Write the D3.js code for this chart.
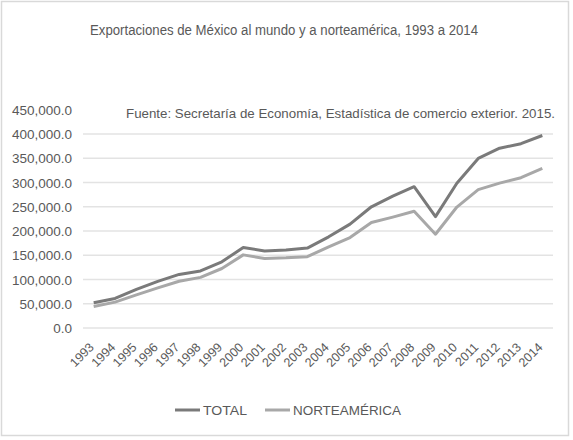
<!DOCTYPE html>
<html><head><meta charset="utf-8">
<script src="https://cdn.jsdelivr.net/npm/d3@7"></script>
<style>
body{margin:0;background:#fff;}
svg text{font-family:"Liberation Sans Narrow","Arial Narrow","Liberation Sans",sans-serif;fill:#595959;}
</style></head><body>
<svg id="c" width="573" height="440"></svg>
<script>
const years = ["1993","1994","1995","1996","1997","1998","1999","2000","2001","2002","2003","2004","2005","2006","2007","2008","2009","2010","2011","2012","2013","2014"];
const total = [51886,60882,79542,95999,110431,117539,136362,166121,158780,161046,164766,187999,214233,249925,271875,291343,229704,298473,349569,370770,380015,396912];
const norteamerica = [44500,53400,68300,82700,96300,104400,122700,150800,143400,144700,147100,167200,186500,217500,228700,240600,193400,249400,285400,298800,309900,329100];
const yTicks = [0,50000,100000,150000,200000,250000,300000,350000,400000,450000];
const title = "Exportaciones de México al mundo  y a norteamérica, 1993 a 2014";
const source = "Fuente: Secretaría de Economía, Estadística de comercio exterior. 2015.";
const seriesNames = ["TOTAL","NORTEAMÉRICA"];
const colors = ["#7a7a7a","#a8a8a8"];

const svg = d3.select("#c");
svg.append("rect").attr("x",1.5).attr("y",1.5).attr("width",567).attr("height",434)
  .attr("fill","#fff").attr("stroke","#d9d9d9").attr("stroke-width",1.5);

const x = d3.scalePoint().domain(years).range([83,553]).padding(0.5);
const y = d3.scaleLinear().domain([0,450000]).range([328,109.75]);

svg.append("text").attr("x",284).attr("y",35).attr("text-anchor","middle")
  .attr("font-size",14).attr("textLength",388).attr("lengthAdjust","spacingAndGlyphs").text(title);

// gridlines
svg.append("g").selectAll("line").data(yTicks.slice(0,-1)).join("line")
  .attr("x1",83).attr("x2",553).attr("y1",d=>y(d)).attr("y2",d=>y(d))
  .attr("stroke","#e3e3e3").attr("stroke-width",1.5);

// y labels
const fmt = d3.format(",.1f");
svg.append("g").selectAll("text").data(yTicks).join("text")
  .attr("x",72).attr("y",d=>y(d)+5).attr("text-anchor","end").attr("font-size",13.5)
  .text(d=>fmt(d));

// x labels
svg.append("g").selectAll("text").data(years).join("text")
  .attr("text-anchor","end").attr("font-size",12.5)
  .attr("transform",d=>`translate(${x(d)+1},${348}) rotate(-45)`)
  .text(d=>d);

// lines
const line = d3.line().x((d,i)=>x(years[i])).y(d=>y(d));
[norteamerica,total].forEach((s,k)=>{
  const col = k===0?colors[1]:colors[0];
  svg.append("path").datum(s).attr("d",line).attr("fill","none")
    .attr("stroke",col).attr("stroke-width",3).attr("stroke-linejoin","round");
});

// source
svg.append("text").attr("x",126).attr("y",118).attr("font-size",13)
  .attr("textLength",429).attr("lengthAdjust","spacingAndGlyphs").text(source);

// legend
const leg = [{n:seriesNames[0],c:colors[0],x:175,tl:44},{n:seriesNames[1],c:colors[1],x:265,tl:108}];
leg.forEach(l=>{
  svg.append("line").attr("x1",l.x).attr("x2",l.x+25).attr("y1",410).attr("y2",410)
    .attr("stroke",l.c).attr("stroke-width",3);
  svg.append("text").attr("x",l.x+28).attr("y",415).attr("font-size",13.5)
    .attr("textLength",l.tl).attr("lengthAdjust","spacingAndGlyphs").text(l.n);
});
</script></body></html>
